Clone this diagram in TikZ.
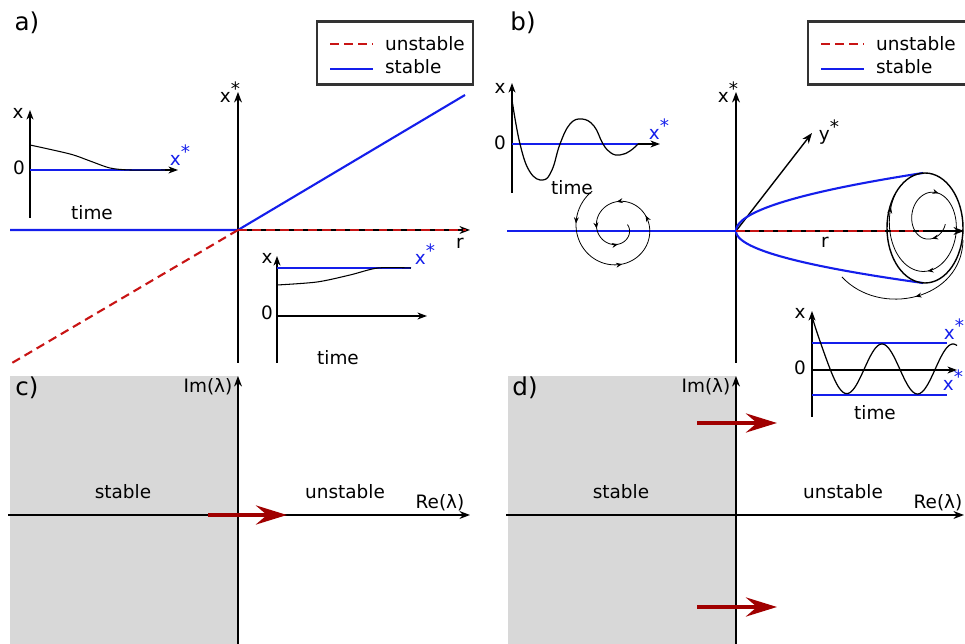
\documentclass[tikz,border=0pt]{standalone}
\usepackage{fontspec}
\setmainfont{DejaVu Sans}
\usepackage{xcolor}
\usetikzlibrary{arrows.meta,decorations.markings}

\definecolor{stabblue}{RGB}{20,30,235}
\definecolor{unstred}{RGB}{200,20,20}
\definecolor{eigred}{RGB}{160,0,0}
\definecolor{halfgray}{RGB}{216,216,216}
\definecolor{boxgray}{RGB}{51,51,51}

\newcommand{\fixstar}[1]{#1\raisebox{0.4em}{*}}

\tikzset{
  axis/.style={line width=0.8pt,-{Stealth[length=6pt,width=4.5pt]}},
  smallaxis/.style={line width=0.6pt,-{Stealth[length=5.5pt,width=4pt]}},
  stab/.style={stabblue,line width=1.2pt},
  unst/.style={unstred,line width=1.2pt,dash pattern=on 5pt off 3pt},
  lbl/.style={font=\fontsize{10.5}{12}\selectfont,inner sep=1pt},
  panel/.style={font=\fontsize{14}{16}\selectfont,inner sep=1pt},
  legendbox/.style={draw=boxgray,line width=1.7pt},
  eigarrow/.style={eigred,line width=2.6pt,-{Stealth[length=0.62cm,width=0.38cm,inset=0.22cm]}},
  flow/.style={line width=0.45pt},
  flowtip/.style={postaction={decorate,decoration={markings,mark=at position #1 with {\arrow{Stealth[length=3.5pt,width=2.8pt]}}}}}
}

\begin{document}
\begin{tikzpicture}[x=0.02cm,y=-0.02cm]
		\useasboundingbox (0,0) rectangle (965,644);
		% legends of a) and b)
		\foreach \i/\r in {0/473,491/966}
		{
		\draw[legendbox] (317+\i,22) rectangle (\r,85);
		\draw[unst] (330+\i,44) to (373+\i,44);
		\draw[stab] (330+\i,69) to (373+\i,69);
		\node[lbl,anchor=west] at (383+\i,44) {unstable};
		\node[lbl,anchor=west] at (383+\i,67) {stable};
		}
		% half planes c) and d)
		\foreach \i/\p/\e in {0/c/470,498/d/964}
		{
		\fill[halfgray] (10+\i,376) rectangle (238+\i,644);
		\draw[axis] (8+\i,515) to (\e,515);
		\draw[axis] (238+\i,644) to (238+\i,376);
		\node[panel] (lab\p) at (27+\i,388) {\p)};
		\node[lbl] (im\p) at (208+\i,387) {Im(λ)};
		\node[lbl] (re\p) at (440+\i,503) {Re(λ)};
		\node[lbl] (st\p) at (123+\i,492) {stable};
		\node[lbl] (un\p) at (345+\i,492) {unstable};
		}
		\draw[eigarrow] (208,515) to (287,515);
		\foreach \j in {423,607}
		{
		\draw[eigarrow] (697,\j) to (777,\j);
		}

		% a) transcritical
		\coordinate (oa) at (238,230);
		\draw[axis] (10,230) to (470,230);
		\draw[axis] (238,363) to (238,92);
		\draw[stab] (10,230) to (oa) to (465,95);
		\draw[unst] (oa) to (466,230);
		\draw[unst] (oa) to (12,363);
		\node[panel] (laba) at (27,23) {a)};
		\node[lbl] (xsa) at (230,92) {\fixstar{x}};
		\node[lbl] (ra) at (460,243) {r};
		% inset, stable branch r<0
		\draw[smallaxis] (30,218) to (30,110);
		\draw[smallaxis] (30,170) to (178,170);
		\draw[stab,line width=0.8pt] (30,170) to (165,170);
		\draw[line width=0.6pt] plot[smooth] coordinates {(30,145) (70,154) (90,161) (110,168) (130,170) (165,170)};
		\node[lbl] at (18,113) {x};
		\node[lbl] at (19,168) {0};
		\node[lbl] at (92,213) {time};
		\node[lbl,stabblue] at (180,155) {\fixstar{x}};
		% inset, stable branch r>0
		\draw[smallaxis] (277,363) to (277,256);
		\draw[smallaxis] (277,316) to (427,316);
		\draw[stab,line width=0.8pt] (277,268) to (411,268);
		\draw[line width=0.6pt] plot[smooth] coordinates {(277,285) (317,282) (350,275) (378,268) (411,268)};
		\node[lbl] at (267,258) {x};
		\node[lbl] at (267,313) {0};
		\node[lbl] at (338,358) {time};
		\node[lbl,stabblue] at (425,254) {\fixstar{x}};

		% b) Hopf
		\coordinate (ob) at (736,231);
		\draw[axis] (507,231) to (964,231);
		\draw[axis] (736,363) to (736,92);
		\draw[axis] (ob) to (812,133);
		\draw[stab] (507,231) to (ob);
		\draw[stab] plot[domain=0:58,samples=40] ({736+\x*\x/18},{231-\x});
		\draw[stab] plot[domain=0:52,samples=40] ({736+\x*\x/14.46},{231+\x});
		\draw[unst] (ob) to (923,231);
		\node[panel] (labb) at (523,23) {b)};
		\node[lbl] (xsb) at (728,92) {\fixstar{x}};
		\node[lbl] (ysb) at (829,132) {\fixstar{y}};
		\node[lbl] (rb) at (825,242) {r};
		% limit cycle
		\draw[line width=0.8pt] (925,228) ellipse [x radius=38, y radius=55];
		\draw[flow,flowtip=0.07,flowtip=0.33,flowtip=0.66,flowtip=0.95] plot[domain=0:1,samples=120,variable=\u]
			({934-9*\u+(12+26*\u)*cos(20+560*\u)},{220+8*\u+(12+43*\u)*sin(20+560*\u)});
		\draw[flow,flowtip=0.5] (963,240) .. controls (962,300) and (880,318) .. (842,277);
		% stable focus
		\draw[flow,flowtip=0.125,flowtip=0.363,flowtip=0.574,flowtip=0.689,flowtip=0.814,flowtip=0.913] plot[domain=125:740,samples=150]
			({618+(45-(\x-125)/615*35)*cos(\x)},{228-(45-(\x-125)/615*35)*sin(\x)});
		% inset, damped oscillation
		\draw[smallaxis] (512,193) to (512,83);
		\draw[smallaxis] (512,144) to (660,144);
		\draw[stab,line width=0.8pt] (512,144) to (638,144);
		\draw[line width=0.7pt] plot[smooth,tension=0.7] coordinates {(512,100) (520,144) (530,172) (543,180) (552,170) (560,144) (570,124) (582,119) (594,126) (603,144) (611,153) (620,155) (630,151) (638,144)};
		\node[lbl] at (500,88) {x};
		\node[lbl] at (500,143) {0};
		\node[lbl] at (572,188) {time};
		\node[lbl,stabblue] at (659,129) {\fixstar{x}};
		% inset, oscillation on the cycle
		\draw[smallaxis] (812,417) to (812,311);
		\draw[smallaxis] (812,370) to (957,370);
		\draw[stab,line width=0.8pt] (812,343) to (947,343);
		\draw[stab,line width=0.8pt] (812,395) to (947,395);
		\draw[line width=0.7pt] plot[domain=812:957,samples=90] (\x,{369-25*cos((\x-882)/71*360)-28*exp(-(\x-812)/8)});
		\node[lbl] at (800,313) {x};
		\node[lbl] at (800,368) {0};
		\node[lbl] at (875,413) {time};
		\node[lbl,stabblue] at (954,329) {\fixstar{x}};
		\node[lbl,stabblue] at (953,380) {\fixstar{x}};
	\end{tikzpicture}
\end{document}
